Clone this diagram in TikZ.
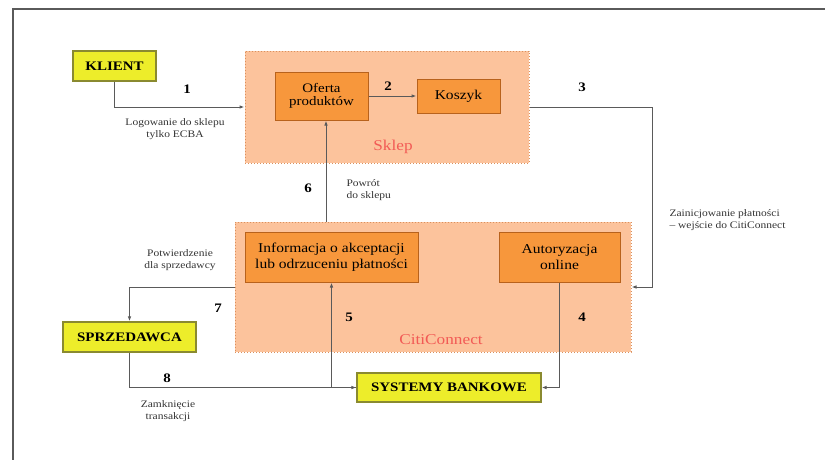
\documentclass[tikz,border=0pt]{standalone}
\usepackage{fontspec}
\setmainfont{Liberation Serif}[FakeStretch=1.15]
\usetikzlibrary{positioning,arrows.meta}

\definecolor{boxyellow}{HTML}{EDED2A}
\definecolor{boxolive}{HTML}{8A8A30}
\definecolor{areafill}{HTML}{FCC39C}
\definecolor{areadraw}{HTML}{D9905E}
\definecolor{innerfill}{HTML}{F7973C}
\definecolor{innerdraw}{HTML}{B8621C}
\definecolor{titlered}{HTML}{F25A55}
\definecolor{linegray}{HTML}{5A5A5A}

\tikzset{
  party/.style={draw=boxolive, line width=1.2pt, fill=boxyellow, inner sep=0pt,
    font=\fontsize{13}{15}\selectfont\bfseries},
  area/.style={draw=areadraw, dotted, line width=1pt, fill=areafill, inner sep=0pt},
  inner/.style={draw=innerdraw, line width=1pt, fill=innerfill, inner sep=0pt,
    align=center, font=\fontsize{13.5}{16}\selectfont},
  arr/.style={draw=linegray, line width=1pt, -{Latex[length=5pt,width=3.6pt]}},
  num/.style={font=\fontsize{13}{15}\selectfont\bfseries},
  note/.style={align=center, text=black!80, font=\fontsize{10}{12}\selectfont},
  areatitle/.style={text=titlered, font=\fontsize{15}{17}\selectfont}
}

\begin{document}
\begin{tikzpicture}[x=1pt,y=-1pt]
\useasboundingbox (0,0) rectangle (825,459);
\draw[linegray, line width=1.2pt] (13,9) rectangle (840,470);

\node (SKL) [area, minimum width=284pt, minimum height=112pt] at (387,107) {};
\node (CIT) [area, minimum width=396pt, minimum height=130pt] at (433,287) {};

\node (OFE) [inner, minimum width=93pt, minimum height=48pt, font=\fontsize{13}{13}\selectfont] at (321.5,96) {Oferta\\produktów};
\node (KOS) [inner, minimum width=83pt, minimum height=34pt] at (458.5,96) {Koszyk};
\node (INF) [inner, minimum width=173pt, minimum height=50pt] at (331.5,257) {Informacja o akceptacji\\lub odrzuceniu płatności};
\node (AUT) [inner, minimum width=121pt, minimum height=50pt] at (559.5,257) {Autoryzacja\\online};

\node (SKT) [areatitle, above=6pt of SKL.south, xshift=6pt] {Sklep};
\node (CIT1) [areatitle, above=4pt of CIT.south, xshift=8pt] {CitiConnect};

\node (KLI) [party, minimum width=83pt, minimum height=30pt] at (114.5,66) {KLIENT};
\node (SPR) [party, minimum width=133pt, minimum height=30pt] at (129.5,337) {SPRZEDAWCA};
\node (BNK) [party, minimum width=184pt, minimum height=29pt] at (449,387.5) {SYSTEMY BANKOWE};

\draw[arr] (KLI) |- (SKL);
\draw[arr] (OFE) -- (KOS);
\draw[arr] (SKL.east) -- ++(123,0) |- (CIT.east);
\draw[arr] (AUT) |- (BNK);
\draw[arr] (BNK.west) -| (INF.south);
\draw[arr] ([xshift=4.5pt]OFE.south |- CIT.north) -- ([xshift=4.5pt]OFE.south);
\draw[arr] (CIT) -| (SPR);
\draw[arr] (SPR) |- (BNK);

\node (N1) [num] at (187,89) {1};
\node (N2) [num] at (388,86) {2};
\node (N3) [num] at (582,87) {3};
\node (N4) [num] at (582,317) {4};
\node (N5) [num] at (349,317) {5};
\node (N6) [num] at (308,188) {6};
\node (N7) [num] at (218,308) {7};
\node (N8) [num] at (167,378) {8};

\node (T1) [note] at (175,129) {Logowanie do sklepu\\tylko ECBA};
\node (T3) [note, align=left, anchor=west] at (666,220) {Zainicjowanie płatności\\– wejście do CitiConnect};
\node (T6) [note, align=left, anchor=west] at (343,190) {Powrót\\do sklepu};
\node (T7) [note] at (180,260) {Potwierdzenie\\dla sprzedawcy};
\node (T8) [note] at (168,411) {Zamknięcie\\transakcji};

\end{tikzpicture}
\end{document}
